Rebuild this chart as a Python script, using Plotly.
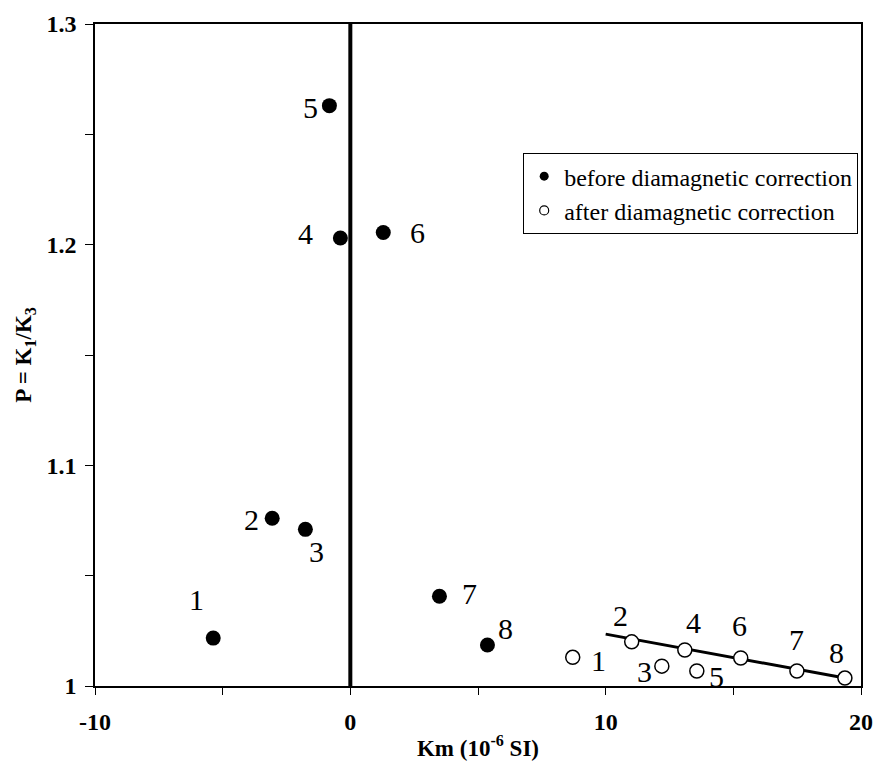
import plotly.graph_objects as go

# Data: before diamagnetic correction (filled)
before_labels = ["1", "2", "3", "4", "5", "6", "7", "8"]
before_km = [-5.37, -3.06, -1.76, -0.39, -0.82, 1.29, 3.49, 5.37]
before_p = [1.0217, 1.076, 1.071, 1.203, 1.263, 1.2055, 1.0407, 1.0186]

# Data: after diamagnetic correction (open)
after_labels = ["1", "2", "3", "4", "5", "6", "7", "8"]
after_km = [8.71, 11.02, 12.2, 13.1, 13.57, 15.29, 17.49, 19.37]
after_p = [1.013, 1.020, 1.009, 1.0163, 1.0068, 1.0127, 1.0068, 1.0036]

# Fitted trend line through corrected samples 2,4,6,7,8
fit_km = [10.0, 19.37]
fit_p = [1.0235, 1.0036]

x_tickvals = [-10, 0, 10, 20]
x_ticktext = ["-10", "0", "10", "20"]
y_tickvals = [1.0, 1.1, 1.2, 1.3]
y_ticktext = ["1", "1.1", "1.2", "1.3"]

# label offsets in pixels (dx, dy screen)
before_off = [(-17, -39), (-21, 1), (11, 22), (-35, -5), (-19, 2), (34, 0), (30, -3), (18, -16)]
after_off = [(26, 3), (-11, -26), (-17, 5), (9, -28), (20, 6), (-1, -32), (0, -31), (-8, -26)]

SERIF = "Liberation Serif"

fig = go.Figure()

fig.add_trace(go.Scatter(x=fit_km, y=fit_p, mode="lines",
                         line=dict(color="black", width=3),
                         showlegend=False, hoverinfo="skip"))

fig.add_trace(go.Scatter(x=before_km, y=before_p, mode="markers",
                         marker=dict(color="black", size=15, symbol="circle"),
                         showlegend=False, cliponaxis=False))
fig.add_trace(go.Scatter(x=after_km, y=after_p, mode="markers",
                         marker=dict(color="white", size=14, symbol="circle",
                                     line=dict(color="black", width=1.5)),
                         showlegend=False, cliponaxis=False))

# legend-only entries with small symbols
fig.add_trace(go.Scatter(x=[None], y=[None], mode="markers",
                         name="before diamagnetic correction",
                         marker=dict(color="black", size=9, symbol="circle")))
fig.add_trace(go.Scatter(x=[None], y=[None], mode="markers",
                         name="after diamagnetic correction",
                         marker=dict(color="white", size=9, symbol="circle",
                                     line=dict(color="black", width=1.2))))

annotations = []
for lab, xv, yv, (dx, dy) in zip(before_labels, before_km, before_p, before_off):
    annotations.append(dict(x=xv, y=yv, text=lab, showarrow=False,
                            xshift=dx, yshift=-dy, xanchor="center", yanchor="middle",
                            font=dict(family=SERIF, size=30, color="black")))
for lab, xv, yv, (dx, dy) in zip(after_labels, after_km, after_p, after_off):
    annotations.append(dict(x=xv, y=yv, text=lab, showarrow=False,
                            xshift=dx, yshift=-dy, xanchor="center", yanchor="middle",
                            font=dict(family=SERIF, size=30, color="black")))

fig.update_layout(
    width=873, height=765,
    margin=dict(l=95, r=12, t=24, b=79),
    paper_bgcolor="white", plot_bgcolor="white",
    font=dict(family=SERIF, color="black"),
    annotations=annotations,
    shapes=[dict(type="line", xref="x", yref="y", x0=0, x1=0, y0=1.0, y1=1.3,
                 line=dict(color="black", width=4), layer="above")],
    legend=dict(x=0.559, y=0.805, xanchor="left", yanchor="top",
                bgcolor="white", bordercolor="black", borderwidth=1,
                font=dict(family=SERIF, size=24, color="black"),
                itemsizing="trace", tracegroupgap=0),
    xaxis=dict(range=[-10, 20], tickvals=x_tickvals, ticktext=x_ticktext,
               automargin=False,
               ticks="outside", ticklen=7, tickwidth=1.2, tickcolor="black",
               minor=dict(dtick=5, ticks="outside", ticklen=7, tickwidth=1.2,
                          tickcolor="black", showgrid=False),
               showgrid=False, zeroline=False, showline=True, linecolor="black",
               linewidth=1.5, mirror=True, ticklabelstandoff=6,
               tickfont=dict(family=SERIF, size=24, color="black", weight="bold"),
               title=dict(text="<b>Km (10<sup>-6</sup> SI)</b>", standoff=6,
                          font=dict(family=SERIF, size=23, color="black"))),
    yaxis=dict(range=[1.0, 1.3], tickvals=y_tickvals, ticktext=y_ticktext,
               automargin=False,
               ticks="outside", ticklen=8, tickwidth=1.2, tickcolor="black",
               minor=dict(dtick=0.05, ticks="outside", ticklen=8, tickwidth=1.2,
                          tickcolor="black", showgrid=False),
               showgrid=False, zeroline=False, showline=True, linecolor="black",
               linewidth=1.5, mirror=True, ticklabelstandoff=4,
               tickfont=dict(family=SERIF, size=24, color="black", weight="bold"),
               title=dict(text="<b>P = K<sub>1</sub>/K<sub>3</sub></b>", standoff=8,
                          font=dict(family=SERIF, size=23, color="black"))),
)

fig.write_html("out.html")
